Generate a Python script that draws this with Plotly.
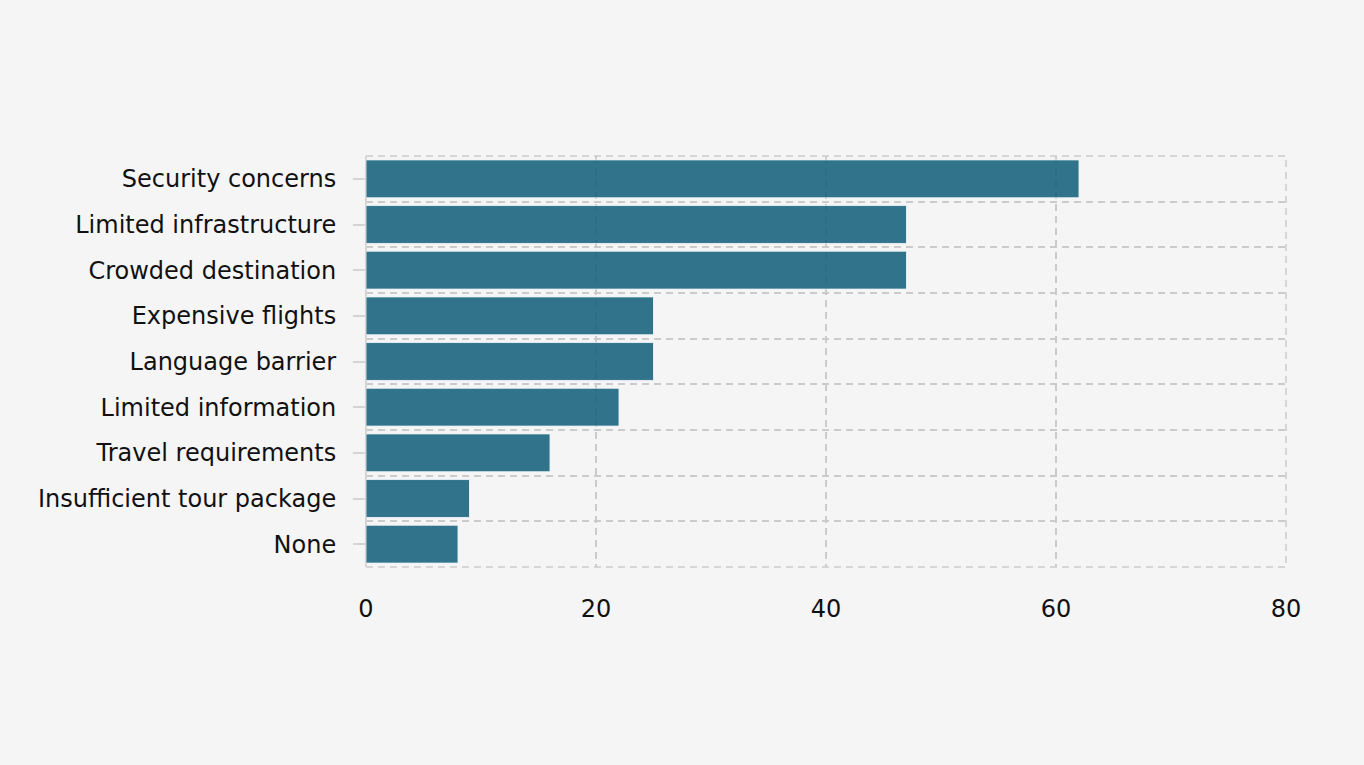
import plotly.graph_objects as go

categories = [
    "Security concerns",
    "Limited infrastructure",
    "Crowded destination",
    "Expensive flights",
    "Language barrier",
    "Limited information",
    "Travel requirements",
    "Insufficient tour package",
    "None",
]
values = [62, 47, 47, 25, 25, 22, 16, 9, 8]
x_ticks = [0, 20, 40, 60, 80]

positions = list(range(len(categories)))
boundaries = [p - 0.5 for p in positions] + [positions[-1] + 0.5]

fig = go.Figure(
    go.Bar(
        x=values,
        y=positions,
        orientation="h",
        width=0.83,
        marker=dict(color="#105e79", opacity=0.86,
                    line=dict(color="rgba(235,242,245,0.9)", width=1)),
        hoverinfo="x+text",
        hovertext=categories,
    )
)

grid_color = "#cbcbcb"
dash = "7px,5px"

# dashed frame around the plotting area (edges where grid lines are omitted)
fig.add_shape(
    type="rect", xref="x domain", yref="y domain",
    x0=0, x1=1, y0=0, y1=1,
    line=dict(color=grid_color, width=1.5, dash=dash),
    layer="below",
)

fig.update_layout(
    width=1364,
    height=765,
    paper_bgcolor="#f5f5f5",
    plot_bgcolor="#f5f5f5",
    margin=dict(l=366, r=78, t=156, b=198, autoexpand=False),
    font=dict(family="Verdana, DejaVu Sans, sans-serif", size=24, color="#111111"),
    showlegend=False,
    xaxis=dict(
        range=[0, 80],
        tickvals=x_ticks,
        showgrid=True,
        gridcolor=grid_color,
        griddash=dash,
        gridwidth=1.5,
        zeroline=True,
        zerolinecolor="#d4d4d4",
        zerolinewidth=1.5,
        showline=False,
        ticks="outside",
        ticklen=20,
        tickcolor="rgba(0,0,0,0)",
    ),
    yaxis=dict(
        range=[positions[-1] + 0.5, -0.5],
        tickvals=positions,
        ticktext=categories,
        showgrid=False,
        zeroline=False,
        showline=False,
        ticks="outside",
        ticklen=12,
        tickwidth=1.5,
        tickcolor="#d4d4d4",
        ticklabelstandoff=12,
        minor=dict(
            tickvals=boundaries,
            showgrid=True,
            gridcolor=grid_color,
            griddash=dash,
            gridwidth=1.5,
            ticks="",
        ),
    ),
)

fig.write_html(
    "out.html",
    config={"displayModeBar": False},
    post_script="document.body.style.margin='0';document.body.style.background='#f5f5f5';",
)
